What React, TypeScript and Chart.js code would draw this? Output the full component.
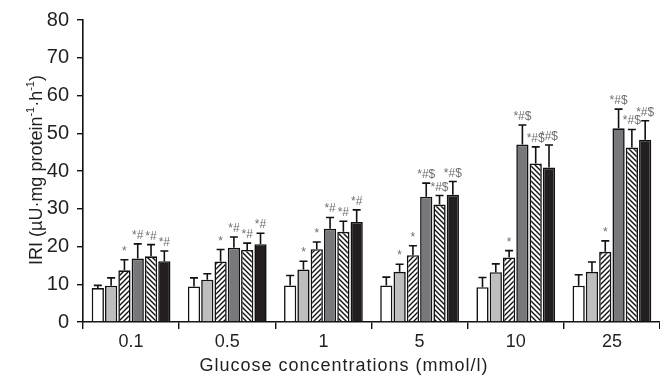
import React, { useEffect, useRef } from "react";
import { Chart, registerables } from "chart.js";

Chart.register(...registerables);

const categories = ["0.1", "0.5", "1", "5", "10", "25"];
const yTicks = [0, 10, 20, 30, 40, 50, 60, 70, 80];

const series1 = [9.0, 9.4, 9.7, 9.7, 9.2, 9.6];
const series2 = [9.6, 11.2, 13.9, 13.3, 13.2, 13.3];
const series3 = [13.7, 16.0, 19.3, 17.7, 17.1, 18.6];
const series4 = [16.8, 19.7, 24.7, 33.2, 47.0, 51.3];
const series5 = [17.4, 19.1, 23.9, 31.1, 42.0, 46.2];
const series6 = [16.1, 20.6, 26.5, 33.7, 40.9, 48.3];

const err1 = [0.7, 2.3, 2.6, 2.2, 2.6, 2.9];
const err2 = [2.1, 1.6, 2.2, 2.0, 2.2, 2.6];
const err3 = [2.8, 3.2, 1.9, 2.5, 1.8, 2.9];
const err4 = [3.9, 2.8, 3.0, 3.6, 5.2, 5.1];
const err5 = [3.1, 1.8, 2.8, 2.4, 4.4, 4.8];
const err6 = [2.7, 2.9, 3.2, 3.5, 6.0, 5.0];

const marks1 = ["", "", "", "", "", ""];
const marks2 = ["", "", "*", "*", "", ""];
const marks3 = ["*", "*", "*", "*", "*", "*"];
const marks4 = ["*#", "*#", "*#", "*#$", "*#$", "*#$"];
const marks5 = ["*#", "*#", "*#", "*#$", "*#$", "*#$"];
const marks6 = ["*#", "*#", "*#", "*#$", "*#$", "*#$"];

const xTitle = "Glucose concentrations (mmol/l)";
const yTitleParts: [string, boolean][] = [
  ["IRI (µU·mg protein", false],
  ["-1", true],
  ["·h", false],
  ["-1", true],
  [")", false],
];

const FONT = "'Liberation Sans', Arial, Helvetica, sans-serif";

function makeHatch(dir: "/" | "\\"): CanvasPattern | string {
  const s = 5;
  const c = document.createElement("canvas");
  c.width = s;
  c.height = s;
  const g = c.getContext("2d");
  if (!g) return "#fff";
  g.fillStyle = "#ffffff";
  g.fillRect(0, 0, s, s);
  g.strokeStyle = "#111";
  g.lineWidth = 1.4;
  g.beginPath();
  if (dir === "/") {
    g.moveTo(-1, s + 1);
    g.lineTo(s + 1, -1);
    g.moveTo(-2, 2);
    g.lineTo(2, -2);
    g.moveTo(s - 2, s + 2);
    g.lineTo(s + 2, s - 2);
  } else {
    g.moveTo(-1, -1);
    g.lineTo(s + 1, s + 1);
    g.moveTo(-2, s - 2);
    g.lineTo(2, s + 2);
    g.moveTo(s - 2, -2);
    g.lineTo(s + 2, 2);
  }
  g.stroke();
  const p = g.createPattern(c, "repeat");
  return p || "#fff";
}

export default function App() {
  const ref = useRef<HTMLCanvasElement | null>(null);

  useEffect(() => {
    document.body.style.margin = "0";
    const canvas = ref.current;
    if (!canvas) return;

    const errs = [err1, err2, err3, err4, err5, err6];
    const marks = [marks1, marks2, marks3, marks4, marks5, marks6];

    const errorPlugin = {
      id: "errorBars",
      afterDatasetsDraw(chart: any) {
        const ctx = chart.ctx;
        const y = chart.scales.y;
        ctx.save();
        chart.data.datasets.forEach((ds: any, i: number) => {
          const meta = chart.getDatasetMeta(i);
          meta.data.forEach((bar: any, j: number) => {
            const v = ds.data[j] as number;
            const top = y.getPixelForValue(v + errs[i][j]);
            ctx.strokeStyle = "#111";
            ctx.lineWidth = 1.6;
            ctx.beginPath();
            ctx.moveTo(bar.x, bar.y);
            ctx.lineTo(bar.x, top);
            ctx.moveTo(bar.x - 4, top);
            ctx.lineTo(bar.x + 4, top);
            ctx.stroke();
            const m = marks[i][j];
            if (m) {
              ctx.fillStyle = "#6d6e71";
              ctx.font = `12px ${FONT}`;
              ctx.textAlign = "center";
              ctx.textBaseline = "alphabetic";
              ctx.fillText(m, bar.x, top - 5);
            }
          });
        });
        ctx.restore();
      },
    };

    const titlePlugin = {
      id: "axisTitles",
      afterDraw(chart: any) {
        const ctx = chart.ctx;
        ctx.save();
        ctx.fillStyle = "#231f20";
        // x title
        ctx.font = `18px ${FONT}`;
        (ctx as any).letterSpacing = "1px";
        ctx.textAlign = "center";
        ctx.textBaseline = "middle";
        ctx.fillText(xTitle, 344, 366);
        // y title
        ctx.translate(42, 170);
        ctx.rotate(-Math.PI / 2);
        ctx.textAlign = "left";
        ctx.textBaseline = "alphabetic";
        (ctx as any).letterSpacing = "0px";
        let total = 0;
        const widths: number[] = [];
        yTitleParts.forEach(([t, sup]) => {
          ctx.font = sup ? `11px ${FONT}` : `18px ${FONT}`;
          const w = ctx.measureText(t).width;
          widths.push(w);
          total += w;
        });
        let x = -total / 2;
        yTitleParts.forEach(([t, sup], k) => {
          ctx.font = sup ? `11px ${FONT}` : `18px ${FONT}`;
          ctx.fillText(t, x, sup ? -8 : 0);
          x += widths[k];
        });
        ctx.restore();
      },
    };

    const chart = new Chart(canvas, {
      type: "bar",
      data: {
        labels: categories,
        datasets: [
          { label: "Group 1", data: series1, backgroundColor: "#ffffff" },
          { label: "Group 2", data: series2, backgroundColor: "#bcbec0" },
          { label: "Group 3", data: series3, backgroundColor: makeHatch("/") as any },
          { label: "Group 4", data: series4, backgroundColor: "#77787b" },
          { label: "Group 5", data: series5, backgroundColor: makeHatch("\\") as any },
          { label: "Group 6", data: series6, backgroundColor: "#231f20" },
        ].map((d) => ({
          ...d,
          borderColor: "#111",
          borderWidth: 1.6,
          borderSkipped: "bottom" as const,
          categoryPercentage: 0.83,
          barPercentage: 0.92,
        })),
      },
      options: {
        animation: false,
        responsive: false,
        devicePixelRatio: 1,
        layout: { padding: { top: 18, left: 0, right: 0, bottom: 0 } },
        plugins: {
          legend: { display: false },
          tooltip: { enabled: false },
          title: { display: false },
        },
        scales: {
          x: {
            offset: true,
            afterFit(scale: any) {
              scale.height = 59;
            },
            grid: {
              offset: true,
              drawOnChartArea: false,
              drawTicks: true,
              tickLength: 7,
              color: "#111",
              lineWidth: 1.4,
            },
            border: { display: true, color: "#111", width: 1.6 },
            ticks: {
              color: "#231f20",
              font: { family: FONT, size: 18 },
              padding: 2,
            },
          },
          y: {
            min: 0,
            max: 80,
            afterFit(scale: any) {
              scale.width = 83;
            },
            afterBuildTicks(scale: any) {
              scale.ticks = yTicks.map((v) => ({ value: v }));
            },
            grid: {
              drawOnChartArea: false,
              drawTicks: true,
              tickLength: 6,
              color: "#111",
              lineWidth: 1.4,
            },
            border: { display: true, color: "#111", width: 1.6 },
            ticks: {
              color: "#231f20",
              font: { family: FONT, size: 20 },
              padding: 8,
            },
          },
        },
      },
      plugins: [errorPlugin, titlePlugin],
    });

    return () => chart.destroy();
  }, []);

  return (
    <div style={{ width: 660, height: 381, position: "relative", background: "#fff" }}>
      <canvas ref={ref} width={660} height={381} style={{ display: "block" }} />
    </div>
  );
}
